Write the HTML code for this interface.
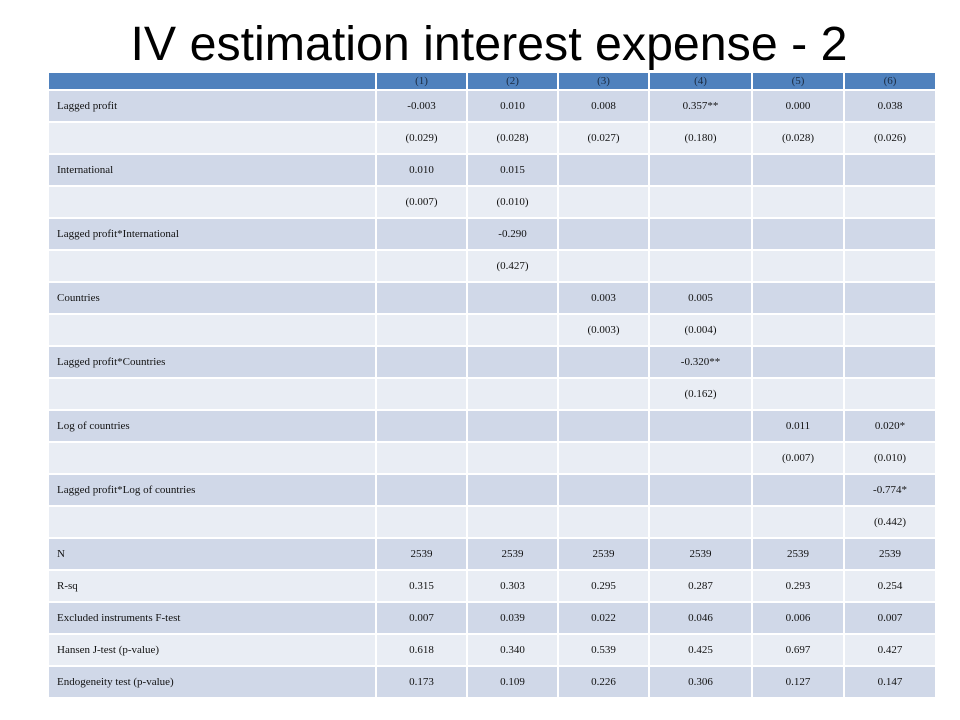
<!DOCTYPE html>
<html><head><meta charset="utf-8">
<style>
html,body{margin:0;padding:0;background:#fff;width:960px;height:720px;overflow:hidden}
#title{position:absolute;left:0;top:0}
table{position:absolute;left:47px;top:71px;border-collapse:collapse;table-layout:fixed;font-family:"Liberation Serif",serif;font-size:11px;color:#111}
td{border:2px solid #fff;padding:0;text-align:center;height:30px}
td.lab{text-align:left;padding-left:8px}
tr.hd td{background:#4F81BD;height:16px;font-size:11px;color:#1a2a40}
tr.o td{background:#D0D8E8}
tr.e td{background:#E9EDF4}
</style></head><body>
<svg id="title" width="960" height="72">
<text x="489" y="60" text-anchor="middle" font-family="Liberation Sans, sans-serif" font-size="48" textLength="717" lengthAdjust="spacingAndGlyphs" fill="#000">IV estimation interest expense - 2</text>
</svg>
<table>
<colgroup><col style="width:328px"><col style="width:91px"><col style="width:91px"><col style="width:91px"><col style="width:103px"><col style="width:92px"><col style="width:92px"></colgroup>
<tr class="hd"><td></td><td>(1)</td><td>(2)</td><td>(3)</td><td>(4)</td><td>(5)</td><td>(6)</td></tr>
<tr class="o"><td class="lab">Lagged profit</td><td>-0.003</td><td>0.010</td><td>0.008</td><td>0.357**</td><td>0.000</td><td>0.038</td></tr>
<tr class="e"><td></td><td>(0.029)</td><td>(0.028)</td><td>(0.027)</td><td>(0.180)</td><td>(0.028)</td><td>(0.026)</td></tr>
<tr class="o"><td class="lab">International</td><td>0.010</td><td>0.015</td><td></td><td></td><td></td><td></td></tr>
<tr class="e"><td></td><td>(0.007)</td><td>(0.010)</td><td></td><td></td><td></td><td></td></tr>
<tr class="o"><td class="lab">Lagged profit*International</td><td></td><td>-0.290</td><td></td><td></td><td></td><td></td></tr>
<tr class="e"><td></td><td></td><td>(0.427)</td><td></td><td></td><td></td><td></td></tr>
<tr class="o"><td class="lab">Countries</td><td></td><td></td><td>0.003</td><td>0.005</td><td></td><td></td></tr>
<tr class="e"><td></td><td></td><td></td><td>(0.003)</td><td>(0.004)</td><td></td><td></td></tr>
<tr class="o"><td class="lab">Lagged profit*Countries</td><td></td><td></td><td></td><td>-0.320**</td><td></td><td></td></tr>
<tr class="e"><td></td><td></td><td></td><td></td><td>(0.162)</td><td></td><td></td></tr>
<tr class="o"><td class="lab">Log of countries</td><td></td><td></td><td></td><td></td><td>0.011</td><td>0.020*</td></tr>
<tr class="e"><td></td><td></td><td></td><td></td><td></td><td>(0.007)</td><td>(0.010)</td></tr>
<tr class="o"><td class="lab">Lagged profit*Log of countries</td><td></td><td></td><td></td><td></td><td></td><td>-0.774*</td></tr>
<tr class="e"><td></td><td></td><td></td><td></td><td></td><td></td><td>(0.442)</td></tr>
<tr class="o"><td class="lab">N</td><td>2539</td><td>2539</td><td>2539</td><td>2539</td><td>2539</td><td>2539</td></tr>
<tr class="e"><td class="lab">R-sq</td><td>0.315</td><td>0.303</td><td>0.295</td><td>0.287</td><td>0.293</td><td>0.254</td></tr>
<tr class="o"><td class="lab">Excluded instruments F-test</td><td>0.007</td><td>0.039</td><td>0.022</td><td>0.046</td><td>0.006</td><td>0.007</td></tr>
<tr class="e"><td class="lab">Hansen J-test (p-value)</td><td>0.618</td><td>0.340</td><td>0.539</td><td>0.425</td><td>0.697</td><td>0.427</td></tr>
<tr class="o"><td class="lab">Endogeneity test (p-value)</td><td>0.173</td><td>0.109</td><td>0.226</td><td>0.306</td><td>0.127</td><td>0.147</td></tr>
</table>
</body></html>
